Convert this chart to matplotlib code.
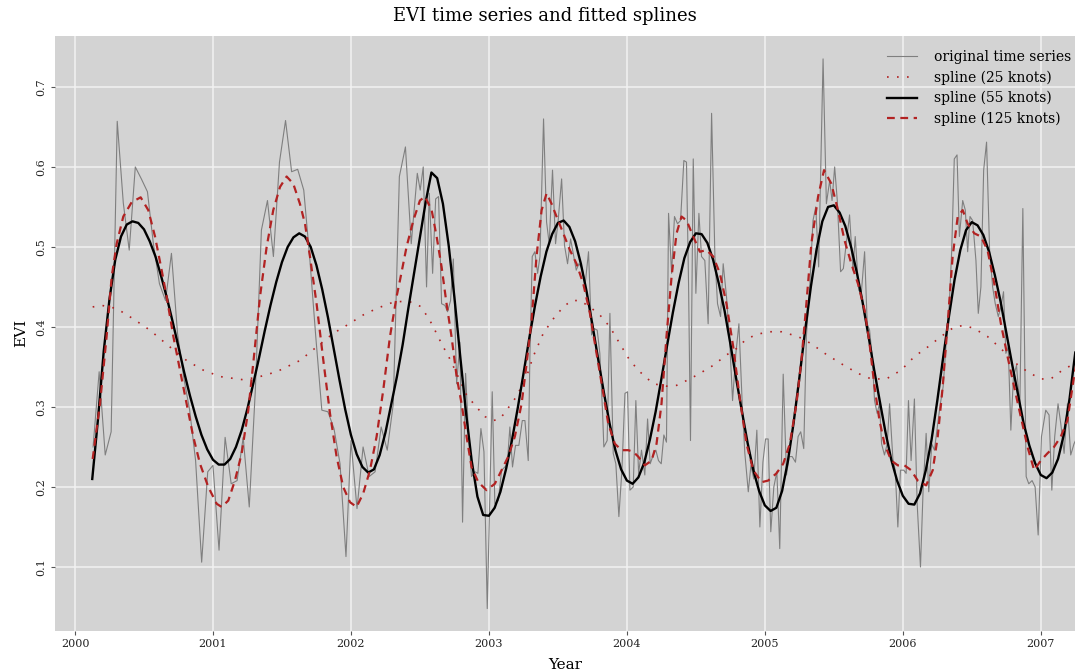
import numpy as np
import matplotlib
matplotlib.use('Agg')
import matplotlib.pyplot as plt

# original EVI series (decimal year, value)
evi_t = [2000.131, 2000.175, 2000.219, 2000.262, 2000.306, 2000.350, 2000.393, 2000.437, 2000.481, 2000.525,
         2000.568, 2000.612, 2000.656, 2000.699, 2000.743, 2000.787, 2000.831, 2000.874, 2000.918, 2000.962,
         2001.000, 2001.044, 2001.088, 2001.132, 2001.175, 2001.219, 2001.263, 2001.307, 2001.351, 2001.395,
         2001.438, 2001.482, 2001.526, 2001.570, 2001.614, 2001.658, 2001.701, 2001.745, 2001.789, 2001.833,
         2001.877, 2001.921, 2001.964,
         2002.000, 2002.044, 2002.088, 2002.132, 2002.175, 2002.219, 2002.263, 2002.307, 2002.351, 2002.395,
         2002.437, 2002.481, 2002.502, 2002.524, 2002.548, 2002.568, 2002.592, 2002.614, 2002.635, 2002.657,
         2002.681, 2002.700, 2002.722, 2002.742, 2002.766, 2002.790, 2002.809, 2002.831, 2002.853, 2002.874,
         2002.899, 2002.920, 2002.942, 2002.964, 2002.988, 2003.024, 2003.043, 2003.068, 2003.092, 2003.116,
         2003.133, 2003.152, 2003.171, 2003.193, 2003.217, 2003.242, 2003.261, 2003.285, 2003.297, 2003.314,
         2003.333, 2003.353, 2003.370, 2003.396, 2003.418, 2003.437, 2003.461, 2003.483, 2003.502, 2003.527,
         2003.548, 2003.570, 2003.592, 2003.611, 2003.633, 2003.652, 2003.676, 2003.698, 2003.722, 2003.744,
         2003.763, 2003.785, 2003.804, 2003.824, 2003.833, 2003.857, 2003.877, 2003.901, 2003.920, 2003.942,
         2003.964, 2003.986, 2004.005, 2004.022, 2004.046, 2004.065, 2004.085, 2004.106, 2004.130, 2004.150,
         2004.169, 2004.191, 2004.210, 2004.229, 2004.249, 2004.268, 2004.287, 2004.302, 2004.324, 2004.345,
         2004.367, 2004.389, 2004.413, 2004.432, 2004.447, 2004.461, 2004.481, 2004.500, 2004.522, 2004.541,
         2004.565, 2004.589, 2004.614, 2004.638, 2004.657, 2004.679, 2004.698, 2004.722, 2004.746, 2004.766,
         2004.790, 2004.812, 2004.836, 2004.855, 2004.880, 2004.899, 2004.920, 2004.942, 2004.964, 2004.986,
         2005.005, 2005.024, 2005.043, 2005.065, 2005.087, 2005.108, 2005.133, 2005.157, 2005.176, 2005.198,
         2005.222, 2005.241, 2005.260, 2005.282, 2005.301, 2005.325, 2005.349, 2005.369, 2005.390, 2005.405,
         2005.422, 2005.446, 2005.470, 2005.487, 2005.506, 2005.525, 2005.549, 2005.569, 2005.590, 2005.614,
         2005.639, 2005.655, 2005.680, 2005.699, 2005.723, 2005.742, 2005.759, 2005.778, 2005.795, 2005.814,
         2005.831, 2005.846, 2005.867, 2005.887, 2005.904, 2005.928, 2005.945, 2005.964, 2005.983, 2006.007,
         2006.024, 2006.041, 2006.060, 2006.084, 2006.104, 2006.128, 2006.147, 2006.169, 2006.188, 2006.210,
         2006.229, 2006.253, 2006.272, 2006.292, 2006.313, 2006.337, 2006.354, 2006.373, 2006.393, 2006.410,
         2006.434, 2006.453, 2006.470, 2006.487, 2006.506, 2006.530, 2006.547, 2006.566, 2006.586, 2006.607,
         2006.629, 2006.651, 2006.670, 2006.692, 2006.711, 2006.730, 2006.747, 2006.764, 2006.783, 2006.802,
         2006.824, 2006.848, 2006.870, 2006.894, 2006.913, 2006.937, 2006.959, 2006.981, 2007.005, 2007.036,
         2007.060, 2007.080, 2007.101, 2007.125, 2007.145, 2007.169, 2007.193, 2007.217, 2007.241, 2007.265]
evi = [0.250, 0.344, 0.240, 0.269, 0.657, 0.555, 0.496, 0.600, 0.585, 0.569,
       0.504, 0.454, 0.433, 0.492, 0.392, 0.338, 0.296, 0.233, 0.106, 0.219,
       0.227, 0.121, 0.262, 0.204, 0.208, 0.262, 0.175, 0.321, 0.521, 0.558,
       0.488, 0.606, 0.658, 0.594, 0.597, 0.571, 0.487, 0.388, 0.296, 0.294,
       0.273, 0.229, 0.113,
       0.258, 0.173, 0.250, 0.213, 0.219, 0.275, 0.246, 0.304, 0.588, 0.625,
       0.504, 0.592, 0.571, 0.600, 0.450, 0.567, 0.467, 0.560, 0.563, 0.429,
       0.427, 0.419, 0.433, 0.485, 0.329, 0.381, 0.156, 0.342, 0.263, 0.213,
       0.219, 0.217, 0.273, 0.244, 0.048, 0.319, 0.179, 0.183, 0.221, 0.225,
       0.229, 0.275, 0.225, 0.252, 0.252, 0.283, 0.283, 0.233, 0.363, 0.488,
       0.494, 0.467, 0.488, 0.660, 0.531, 0.504, 0.596, 0.504, 0.533, 0.585,
       0.502, 0.479, 0.510, 0.492, 0.471, 0.479, 0.473, 0.454, 0.494, 0.390,
       0.398, 0.396, 0.367, 0.292, 0.250, 0.258, 0.417, 0.242, 0.229, 0.163,
       0.221, 0.317, 0.319, 0.196, 0.200, 0.308, 0.217, 0.246, 0.215, 0.285,
       0.229, 0.240, 0.246, 0.233, 0.229, 0.265, 0.256, 0.542, 0.467, 0.538,
       0.529, 0.533, 0.608, 0.606, 0.454, 0.258, 0.610, 0.442, 0.542, 0.488,
       0.483, 0.404, 0.667, 0.488, 0.429, 0.413, 0.479, 0.438, 0.379, 0.308,
       0.367, 0.404, 0.304, 0.242, 0.194, 0.227, 0.210, 0.271, 0.150, 0.231,
       0.260, 0.260, 0.144, 0.200, 0.219, 0.123, 0.341, 0.215, 0.238, 0.238,
       0.231, 0.263, 0.269, 0.248, 0.388, 0.450, 0.533, 0.550, 0.475, 0.596,
       0.735, 0.554, 0.583, 0.558, 0.600, 0.558, 0.469, 0.473, 0.504, 0.540,
       0.471, 0.513, 0.446, 0.442, 0.494, 0.404, 0.396, 0.363, 0.308, 0.292,
       0.304, 0.254, 0.240, 0.254, 0.304, 0.235, 0.221, 0.150, 0.221, 0.221,
       0.217, 0.308, 0.233, 0.310, 0.179, 0.100, 0.196, 0.267, 0.194, 0.254,
       0.246, 0.279, 0.304, 0.325, 0.377, 0.429, 0.494, 0.610, 0.615, 0.513,
       0.558, 0.546, 0.494, 0.538, 0.533, 0.483, 0.417, 0.450, 0.596, 0.631,
       0.496, 0.450, 0.429, 0.413, 0.425, 0.444, 0.367, 0.375, 0.271, 0.338,
       0.352, 0.300, 0.548, 0.213, 0.204, 0.208, 0.200, 0.140, 0.263, 0.296,
       0.290, 0.196, 0.263, 0.304, 0.279, 0.242, 0.304, 0.240, 0.254, 0.263]

# spline with 25 knots
s25_t = [2000.128, 2000.193, 2000.302, 2000.423, 2000.543, 2000.688, 2000.809, 2000.930, 2001.051, 2001.220,
         2001.341, 2001.461, 2001.630, 2001.751, 2001.872, 2001.969, 2002.089, 2002.186, 2002.307, 2002.379,
         2002.440, 2002.500, 2002.560, 2002.597, 2002.657, 2002.717, 2002.766, 2002.838, 2002.899, 2002.971,
         2003.031, 2003.080, 2003.128, 2003.200, 2003.273, 2003.321, 2003.394, 2003.466, 2003.539, 2003.599,
         2003.659, 2003.732, 2003.804, 2003.877, 2003.949, 2004.022, 2004.094, 2004.191, 2004.287, 2004.360,
         2004.457, 2004.529, 2004.626, 2004.722, 2004.795, 2004.855, 2004.928, 2005.024, 2005.120, 2005.241,
         2005.337, 2005.434, 2005.554, 2005.675, 2005.771, 2005.880, 2005.988, 2006.084, 2006.181, 2006.277,
         2006.373, 2006.446, 2006.518, 2006.614, 2006.711, 2006.807, 2006.904, 2007.000, 2007.072, 2007.157,
         2007.241, 2007.265]
s25 = [0.425, 0.427, 0.423, 0.410, 0.396, 0.375, 0.358, 0.346, 0.338, 0.334,
       0.338, 0.344, 0.358, 0.375, 0.392, 0.402, 0.415, 0.423, 0.431, 0.432,
       0.431, 0.426, 0.412, 0.400, 0.379, 0.360, 0.342, 0.315, 0.302, 0.288,
       0.283, 0.285, 0.296, 0.313, 0.338, 0.363, 0.392, 0.410, 0.425, 0.433,
       0.433, 0.425, 0.415, 0.400, 0.379, 0.358, 0.344, 0.329, 0.326, 0.327,
       0.335, 0.342, 0.352, 0.365, 0.373, 0.383, 0.390, 0.394, 0.394, 0.388,
       0.379, 0.367, 0.354, 0.342, 0.335, 0.335, 0.346, 0.363, 0.375, 0.388,
       0.400, 0.402, 0.398, 0.388, 0.373, 0.356, 0.344, 0.335, 0.335, 0.346,
       0.354, 0.356]

# spline with 55 knots, half-monthly readings from 2000.125 on
s55_start = 2000.125
s55 = [0.210, 0.285, 0.370, 0.435, 0.484, 0.513, 0.528, 0.532, 0.530, 0.522,
       0.507, 0.488, 0.463, 0.436, 0.406, 0.375, 0.343, 0.314, 0.288, 0.265,
       0.247,
       0.234, 0.228, 0.228, 0.235, 0.250, 0.271, 0.298, 0.329, 0.361, 0.395,
       0.427, 0.456, 0.481, 0.500, 0.512, 0.517, 0.513, 0.500, 0.477, 0.447,
       0.412, 0.373, 0.334, 0.297,
       0.265, 0.241, 0.225, 0.218, 0.222, 0.240, 0.268, 0.303, 0.338, 0.378,
       0.424, 0.468, 0.512, 0.556, 0.593, 0.586, 0.554, 0.502, 0.437, 0.364,
       0.294, 0.233, 0.188, 0.165,
       0.164, 0.174, 0.194, 0.223, 0.258, 0.298, 0.341, 0.385, 0.426, 0.463,
       0.494, 0.516, 0.530, 0.533, 0.525, 0.507, 0.479, 0.444, 0.403, 0.360,
       0.318, 0.279, 0.246, 0.222,
       0.208, 0.204, 0.212, 0.230, 0.259, 0.294, 0.335, 0.377, 0.418, 0.455,
       0.486, 0.506, 0.517, 0.516, 0.505, 0.484, 0.454, 0.420, 0.379, 0.336,
       0.295, 0.255, 0.221, 0.195,
       0.177, 0.170, 0.174, 0.195, 0.232, 0.280, 0.336, 0.395, 0.450, 0.497,
       0.532, 0.550, 0.552, 0.543, 0.526, 0.500, 0.468, 0.431, 0.390, 0.347,
       0.307, 0.268, 0.234, 0.208,
       0.189, 0.179, 0.178, 0.192, 0.221, 0.259, 0.308, 0.361, 0.412, 0.459,
       0.496, 0.521, 0.531, 0.527, 0.515, 0.494, 0.465, 0.432, 0.393, 0.354,
       0.317, 0.280, 0.252, 0.230,
       0.215, 0.211, 0.218, 0.235, 0.265, 0.310, 0.368]
s55_t = s55_start + np.arange(len(s55)) / 24

# spline with 125 knots
s125_t = [2000.128, 2000.181, 2000.229, 2000.266, 2000.302, 2000.350, 2000.411, 2000.476, 2000.531, 2000.580,
          2000.628, 2000.664, 2000.713, 2000.761, 2000.809, 2000.857, 2000.906, 2000.966, 2001.027, 2001.063,
          2001.111, 2001.159, 2001.208, 2001.256, 2001.297, 2001.341, 2001.389, 2001.437, 2001.486, 2001.534,
          2001.582, 2001.630, 2001.667, 2001.703, 2001.751, 2001.800, 2001.848, 2001.896, 2001.944, 2001.993,
          2002.041, 2002.089, 2002.138, 2002.186, 2002.234, 2002.283, 2002.331, 2002.355, 2002.403, 2002.452,
          2002.500, 2002.536, 2002.585, 2002.621, 2002.657, 2002.693, 2002.729, 2002.766, 2002.802, 2002.838,
          2002.874, 2002.923, 2002.983, 2003.043, 2003.092, 2003.140, 2003.188, 2003.237, 2003.273, 2003.309,
          2003.345, 2003.382, 2003.418, 2003.454, 2003.490, 2003.539, 2003.587, 2003.635, 2003.684, 2003.732,
          2003.780, 2003.829, 2003.865, 2003.913, 2003.961, 2004.010, 2004.046, 2004.082, 2004.130, 2004.179,
          2004.215, 2004.251, 2004.287, 2004.324, 2004.360, 2004.396, 2004.433, 2004.481, 2004.529, 2004.577,
          2004.626, 2004.674, 2004.722, 2004.771, 2004.819, 2004.867, 2004.916, 2004.976, 2005.024, 2005.084,
          2005.133, 2005.181, 2005.229, 2005.265, 2005.301, 2005.337, 2005.386, 2005.429, 2005.482, 2005.530,
          2005.578, 2005.627, 2005.675, 2005.723, 2005.759, 2005.795, 2005.831, 2005.867, 2005.916, 2005.964,
          2006.012, 2006.060, 2006.108, 2006.169, 2006.217, 2006.253, 2006.289, 2006.325, 2006.361, 2006.398,
          2006.434, 2006.470, 2006.518, 2006.566, 2006.614, 2006.663, 2006.711, 2006.759, 2006.807, 2006.855,
          2006.904, 2006.952, 2007.000, 2007.048, 2007.096, 2007.145, 2007.193, 2007.241, 2007.265]
s125 = [0.235, 0.304, 0.388, 0.463, 0.504, 0.538, 0.556, 0.562, 0.546, 0.513,
        0.471, 0.438, 0.388, 0.346, 0.304, 0.263, 0.229, 0.200, 0.179, 0.175,
        0.183, 0.208, 0.242, 0.296, 0.363, 0.438, 0.500, 0.546, 0.575, 0.588,
        0.579, 0.554, 0.529, 0.488, 0.429, 0.358, 0.292, 0.238, 0.200, 0.181,
        0.175, 0.192, 0.221, 0.263, 0.321, 0.388, 0.438, 0.458, 0.500, 0.533,
        0.558, 0.563, 0.546, 0.513, 0.475, 0.429, 0.388, 0.338, 0.304, 0.263,
        0.225, 0.206, 0.196, 0.204, 0.221, 0.238, 0.263, 0.304, 0.354, 0.408,
        0.488, 0.546, 0.567, 0.554, 0.538, 0.517, 0.496, 0.479, 0.454, 0.417,
        0.367, 0.317, 0.279, 0.254, 0.246, 0.246, 0.244, 0.238, 0.227, 0.233,
        0.254, 0.304, 0.388, 0.463, 0.517, 0.538, 0.533, 0.513, 0.494, 0.496,
        0.488, 0.467, 0.429, 0.375, 0.310, 0.254, 0.221, 0.206, 0.208, 0.217,
        0.229, 0.254, 0.304, 0.358, 0.429, 0.504, 0.563, 0.596, 0.579, 0.546,
        0.508, 0.479, 0.454, 0.421, 0.379, 0.325, 0.283, 0.254, 0.233, 0.227,
        0.227, 0.221, 0.208, 0.202, 0.221, 0.263, 0.325, 0.404, 0.488, 0.538,
        0.546, 0.529, 0.517, 0.513, 0.496, 0.454, 0.404, 0.363, 0.325, 0.288,
        0.250, 0.221, 0.233, 0.242, 0.250, 0.263, 0.283, 0.338, 0.360]

year_ticks = [2000, 2001, 2002, 2003, 2004, 2005, 2006, 2007]
evi_ticks = [0.1, 0.2, 0.3, 0.4, 0.5, 0.6, 0.7]

plt.rcParams['font.family'] = ['DejaVu Serif']

red = '#b22222'
fig = plt.figure(figsize=(10.75, 6.7), dpi=100)
ax = fig.add_axes([55 / 1075, 1 - 631 / 670, 1020 / 1075, (631 - 35.7) / 670])
ax.set_facecolor('#d3d3d3')
for s in ax.spines.values():
    s.set_visible(False)

ax.plot(evi_t, evi, color='#7f7f7f', lw=0.8, label='original time series')
ax.plot(s25_t, s25, color=red, lw=1.2, ls=(0, (1, 5)), label='spline (25 knots)')
ax.plot(s55_t, s55, color='black', lw=1.7, label='spline (55 knots)')
ax.plot(s125_t, s125, color=red, lw=1.6, ls=(0, (3.5, 2.5)), label='spline (125 knots)')

ax.set_xlim(1999.855, 2007.248)
ax.set_ylim(0.02, 0.764)
ax.set_xticks(year_ticks)
ax.set_yticks(evi_ticks)
ax.set_yticklabels([str(v) for v in evi_ticks], rotation=90, va='center')
ax.grid(True, color='#f2f2f2', lw=1.1)
ax.set_axisbelow(True)
ax.tick_params(length=3, width=0.8, color='#555555', labelcolor='#222222', labelsize=8, pad=3)

# title sits centred on the figure rather than on the panel
fig.text(545 / 1075, 1 - 16 / 670, 'EVI time series and fitted splines', fontsize=13,
         ha='center', va='center')
ax.set_xlabel('Year', fontsize=11, labelpad=6)
ax.set_ylabel('EVI', fontsize=11, labelpad=6)

leg = ax.legend(loc='upper right', bbox_to_anchor=(1.0016, 0.985), frameon=False, fontsize=10,
                handlelength=2.2, labelspacing=0.45, borderaxespad=0, borderpad=0.4,
                handletextpad=1.2)

fig.savefig('out.png', dpi=100)
